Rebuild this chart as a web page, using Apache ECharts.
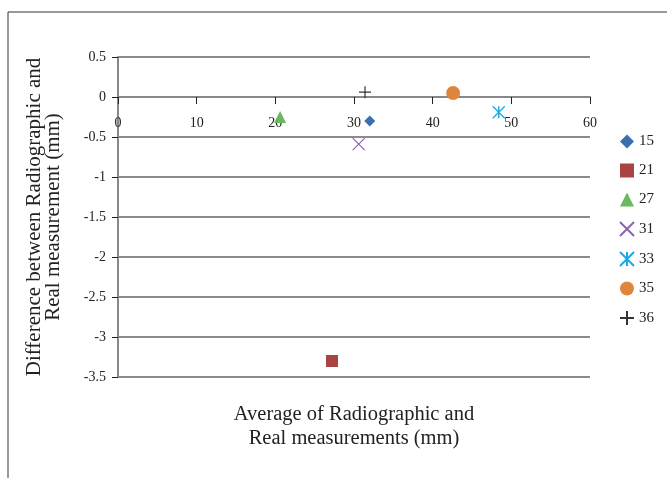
<!DOCTYPE html>
<html>
<head>
<meta charset="utf-8">
<script src="https://cdn.jsdelivr.net/npm/echarts@6/dist/echarts.min.js"></script>
<style>
html,body{margin:0;padding:0;background:#fff;}
#chart{width:667px;height:478px;}
</style>
</head>
<body>
<div id="chart"></div>
<script>
var seriesNames = ['15', '21', '27', '31', '33', '35', '36'];
var xValues = [32.0, 27.2, 20.6, 30.6, 48.4, 42.6, 31.4];
var yValues = [-0.3, -3.3, -0.25, -0.59, -0.19, 0.05, 0.06];
var xTicks = [0, 10, 20, 30, 40, 50, 60];
var yTicks = [0.5, 0, -0.5, -1, -1.5, -2, -2.5, -3, -3.5];

var FONT = '"Liberation Serif", "DejaVu Serif", serif';

var styles = [
  {symbol: 'diamond', size: 11, itemStyle: {color: '#3a6fb0', opacity: 1}},
  {symbol: 'rect', size: 12, itemStyle: {color: '#a94442', opacity: 1}},
  {symbol: 'triangle', size: 12, itemStyle: {color: '#6bb85e', opacity: 1}},
  {symbol: 'path://M0,0L10,10M10,0L0,10', size: 12, itemStyle: {color: 'rgba(0,0,0,0)', borderColor: '#8a64b0', borderWidth: 1.2, opacity: 1}},
  {symbol: 'path://M0,0L10,10M10,0L0,10M5,0L5,10', size: 12, itemStyle: {color: 'rgba(0,0,0,0)', borderColor: '#1aa9e6', borderWidth: 1.4, opacity: 1}},
  {symbol: 'circle', size: 14, itemStyle: {color: '#e0853c', opacity: 1}},
  {symbol: 'path://M5,0L5,10M0,5L10,5', size: 12, itemStyle: {color: 'rgba(0,0,0,0)', borderColor: '#333', borderWidth: 1.2, opacity: 1}}
];

var series = seriesNames.map(function (n, i) {
  return {
    name: n,
    type: 'scatter',
    symbol: styles[i].symbol,
    symbolSize: styles[i].size,
    itemStyle: styles[i].itemStyle,
    data: [[xValues[i], yValues[i]]],
    z: 5
  };
});

var chart = echarts.init(document.getElementById('chart'));
chart.setOption({
  animation: false,
  backgroundColor: '#fff',
  textStyle: {fontFamily: FONT},
  graphic: [{
    type: 'rect',
    shape: {x: 8, y: 12, width: 700, height: 500},
    style: {fill: 'none', stroke: '#333', lineWidth: 1},
    silent: true, z: -1
  }],
  grid: {left: 118, top: 57, width: 472, height: 320, containLabel: false, outerBoundsMode: 'none'},
  legend: {
    orient: 'vertical',
    left: 614,
    top: 129,
    itemGap: 14,
    itemWidth: 14,
    itemHeight: 14,
    data: seriesNames,
    textStyle: {fontFamily: FONT, fontSize: 15, color: '#222'}
  },
  xAxis: {
    type: 'value',
    min: xTicks[0],
    max: xTicks[xTicks.length - 1],
    interval: 10,
    name: 'Average of Radiographic and\nReal measurements (mm)',
    nameLocation: 'middle',
    nameGap: 26,
    nameTextStyle: {fontFamily: FONT, fontSize: 20.5, color: '#222', lineHeight: 24},
    axisLine: {onZero: true, lineStyle: {color: '#888', width: 2}},
    axisTick: {show: true, length: 7, lineStyle: {color: '#222', width: 1}},
    axisLabel: {margin: -261, fontFamily: FONT, fontSize: 14, color: '#222'},
    splitLine: {show: false}
  },
  yAxis: {
    type: 'value',
    min: yTicks[yTicks.length - 1],
    max: yTicks[0],
    interval: 0.5,
    name: 'Difference between Radiographic and\nReal measurement (mm)',
    nameLocation: 'middle',
    nameRotate: 90,
    nameGap: 55,
    nameTextStyle: {fontFamily: FONT, fontSize: 21, color: '#222', lineHeight: 19},
    axisLine: {onZero: false, lineStyle: {color: '#888', width: 2}},
    axisTick: {show: true, length: 6, lineStyle: {color: '#222', width: 1}},
    axisLabel: {margin: 12, fontFamily: FONT, fontSize: 14, color: '#222'},
    splitLine: {show: true, lineStyle: {color: '#666', width: 1.5}}
  },
  series: series
});
</script>
</body>
</html>
